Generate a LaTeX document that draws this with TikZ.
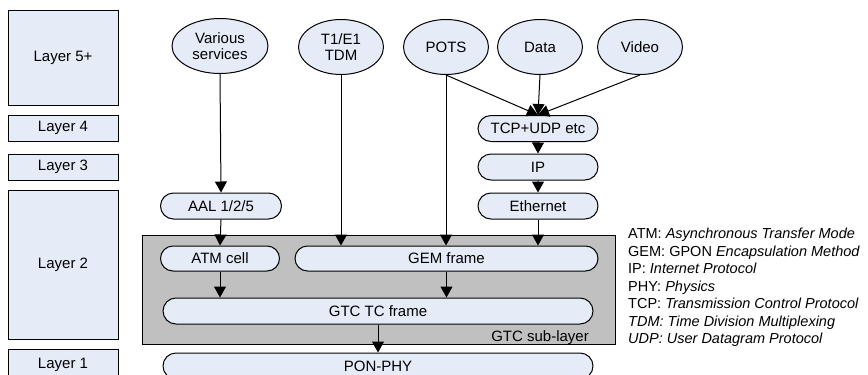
\documentclass[tikz,border=0pt]{standalone}
\usepackage{fontspec}
\setmainfont{Liberation Sans}
\usepackage{xcolor}
\usetikzlibrary{shapes.geometric,shapes.misc,arrows.meta}
\definecolor{paleblue}{HTML}{E6ECF7}
\definecolor{subgray}{HTML}{C0C0C0}
\begin{document}
\begin{tikzpicture}[x=1pt,y=1pt]
    \tikzstyle{every node}+=[inner sep=0pt, font=\fontsize{15}{16.5}\selectfont]
    \tikzstyle{layerbox}=[draw=black, fill=paleblue, line width=1pt, minimum width=110]
    \tikzstyle{service}=[ellipse, draw=black, fill=paleblue, line width=1pt, minimum width=85, minimum height=55, align=center]
    \tikzstyle{proto}=[rounded rectangle, draw=black, fill=paleblue, line width=1pt, minimum height=26]
    \tikzstyle{flow}=[black, line width=1pt, -{Triangle[width=12pt,length=11pt]}]
    \useasboundingbox (0,0) rectangle (868,-375);
    % layers
    \node [layerbox, minimum height=95] (layer5) at (63,-57.5) {Layer 5+};
    \node [layerbox, minimum height=26] (layer4) at (63,-128) {Layer 4};
    \node [layerbox, minimum height=26] (layer3) at (63,-167) {Layer 3};
    \node [layerbox, minimum height=149] (layer2) at (63,-264.5) {Layer 2};
    \node [layerbox, minimum height=32] (layer1) at (63,-365) {Layer 1};
    % gtc sub-layer
    \node [draw=black, fill=subgray, line width=1pt, minimum width=473, minimum height=109] (gtcsub) at (378.5,-289.5) {};
    \node [anchor=base east] (gtclabel) at (589,-341) {GTC sub-layer};
    % services
    \node [service, minimum width=96] (serv) at (220,-46) {Various\\services};
    \node [service] (tdm) at (341,-47) {T1/E1\\TDM};
    \node [service] (pots) at (446,-47) {POTS};
    \node [service] (data) at (540,-47) {Data};
    \node [service] (video) at (640,-47) {Video};
    % protocols
    \node [proto, minimum width=120] (tcp) at (538,-128.5) {TCP+UDP etc};
    \node [proto, minimum width=120] (ip) at (538,-167) {IP};
    \node [proto, minimum width=120] (eth) at (538,-206) {Ethernet};
    \node [proto, minimum width=121] (aal) at (221,-206) {AAL 1/2/5};
    \node [proto, minimum width=119, minimum height=25] (atm) at (220,-258.5) {ATM cell};
    \node [proto, minimum width=303, minimum height=25] (gem) at (446.5,-258.5) {GEM frame};
    \node [proto, minimum width=430] (gtc) at (378,-311) {GTC TC frame};
    \node [proto, minimum width=430] (pon) at (378,-366) {PON-PHY};
    % arrows
    \draw [flow] (serv.south) -- (aal.north);
    \draw [flow] (aal.south) -- (atm.north);
    \draw [flow] (atm.south) -- (atm.south |- gtc.north);
    \draw [flow] (tdm.south) -- (tdm.south |- gem.north);
    \draw [flow] (pots.south) -- (pots.south |- gem.north);
    \draw [flow] (pots.south) -- (tcp.north);
    \draw [flow] (data.south) -- (tcp.north);
    \draw [flow] (video.south) -- (tcp.north);
    \draw [flow] (tcp) -- (ip);
    \draw [flow] (ip) -- (eth);
    \draw [flow] (eth.south) -- (eth.south |- gem.north);
    \draw [flow] (gem.south) -- (gem.south |- gtc.north);
    \draw [flow] (gtc.south) -- (pon.north);
    % legend
    \node [anchor=north west, align=left, font=\fontsize{14.5}{17.5}\selectfont] (legend) at (628,-228) {ATM: \textit{Asynchronous Transfer Mode}\\
        GEM: GPON \textit{Encapsulation Method}\\
        IP: \textit{Internet Protocol}\\
        PHY: \textit{Physics}\\
        TCP: \textit{Transmission Control Protocol}\\
        \textit{TDM: Time Division Multiplexing}\\
        \textit{UDP: User Datagram Protocol}};
\end{tikzpicture}
\end{document}
